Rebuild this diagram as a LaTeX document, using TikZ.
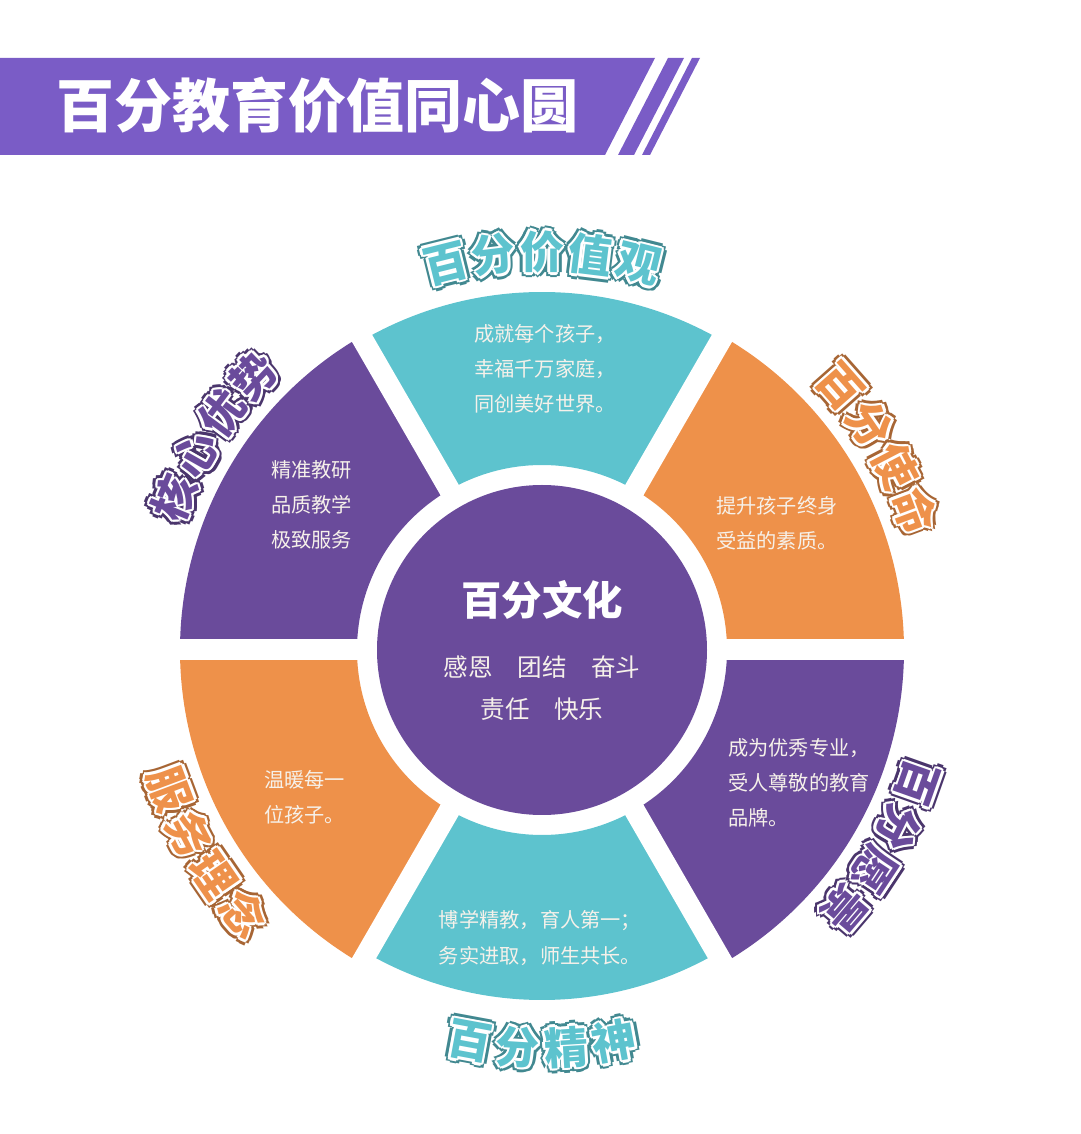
\documentclass[tikz,border=0pt]{standalone}
\usepackage{fontspec}
\setmainfont{Noto Sans CJK SC}
\definecolor{bar}{HTML}{7A5CC6}
\definecolor{pur}{HTML}{6A4B9B}
\definecolor{cya}{HTML}{5DC3CE}
\definecolor{ora}{HTML}{EE914A}
\definecolor{txt}{HTML}{F6F1EA}
\tikzstyle{seg text}=[text=txt, font=\fontsize{11.5}{13}\selectfont, align=left]
\tikzstyle{halo}=[font=\bfseries\fontsize{25}{25}\selectfont, inner sep=0pt]
\newcommand\arcword[6]{%
  \foreach \ch [count=\i] in {#6}{
    \pgfmathsetmacro\a{#1-#2*(\i-(#5+1)/2)*7}
    \foreach \dx/\dy in {3/0,-3/0,0/3,0/-3,2.1/2.1,-2.1/2.1,2.1/-2.1,-2.1/-2.1}
      \node[halo, text=#4!70!black, rotate=\a+#3, xshift=\dx pt, yshift=\dy pt] at (\a:398) {\ch};
    \foreach \dx/\dy in {1.5/0,-1.5/0,0/1.5,0/-1.5,1/1,-1/1,1/-1,-1/-1}
      \node[halo, text=white, rotate=\a+#3, xshift=\dx pt, yshift=\dy pt] at (\a:398) {\ch};
    \node[halo, text=#4, rotate=\a+#3] at (\a:398) {\ch};
  }}
\begin{document}
\begin{tikzpicture}[x=0.02cm, y=0.02cm]
        \useasboundingbox (0,0) rectangle (1080,1134);
        % title bar
        \fill[bar] (0,1076) -- (655,1076) -- (605,979) -- (0,979) -- cycle;
        \fill[bar] (668,1076) -- (684,1076) -- (634,979) -- (618,979) -- cycle;
        \fill[bar] (692,1076) -- (700,1076) -- (650,979) -- (642,979) -- cycle;
        \node[anchor=west, text=white, font=\bfseries\fontsize{33}{33}\selectfont] (title) at (50,1029) {百分教育价值同心圆};
        \begin{scope}[shift={(542,484)}]
        	% ring
        	\fill[cya] (60:185) arc (60:120:185) -- (120:358) arc (120:60:358) -- cycle;
        	\fill[ora] (0:185) arc (0:60:185) -- (60:362) arc (60:0:362) -- cycle;
        	\fill[pur] (-60:185) arc (-60:0:185) -- (0:362) arc (0:-60:362) -- cycle;
        	\fill[cya] (-120:185) arc (-120:-60:185) -- (-60:350) arc (-60:-120:350) -- cycle;
        	\fill[ora] (180:185) arc (180:240:185) -- (240:362) arc (240:180:362) -- cycle;
        	\fill[pur] (120:185) arc (120:180:185) -- (180:362) arc (180:120:362) -- cycle;
        	\foreach \t in {0,60,...,300}
        		\draw[white, line width=0.42cm] (\t:170) -- (\t:380);
        	\fill[pur] (0,0) circle (165);
        	\node[text=white, font=\bfseries\fontsize{23}{23}\selectfont] (core) at (0,50) {百分文化};
        	\node[text=txt, font=\fontsize{14}{24}\selectfont, align=center] (values) at (0,-38) {感恩\quad 团结\quad 奋斗\\责任\quad 快乐};
        	% segment texts
        	\node[seg text, anchor=north west] (t1) at (-74,332) {成就每个孩子，\\[7pt]幸福千万家庭，\\[7pt]同创美好世界。};
        	\node[seg text, anchor=north west] (t2) at (168,160) {提升孩子终身\\[7pt]受益的素质。};
        	\node[seg text, anchor=north west] (t3) at (180,-82) {成为优秀专业，\\[7pt]受人尊敬的教育\\[7pt]品牌。};
        	\node[seg text, align=center] (t4) at (-2,-288) {博学精教，育人第一；\\[7pt]务实进取，师生共长。};
        	\node[seg text, anchor=north west] (t5) at (-284,-114) {温暖每一\\[7pt]位孩子。};
        	\node[seg text, anchor=north west] (t6) at (-277,196) {精准教研\\[7pt]品质教学\\[7pt]极致服务};
        	% labels
        	\arcword{90}{1}{-90}{cya}{5}{百,分,价,值,观}
        	\arcword{31}{1}{-90}{ora}{4}{百,分,使,命}
        	\arcword{-30}{1}{-90}{pur}{4}{百,分,愿,景}
        	\arcword{-90}{-1}{90}{cya}{4}{百,分,精,神}
        	\arcword{211}{-1}{90}{ora}{4}{服,务,理,念}
        	\arcword{147}{1}{-90}{pur}{4}{核,心,优,势}
        \end{scope}
\end{tikzpicture}
\end{document}
